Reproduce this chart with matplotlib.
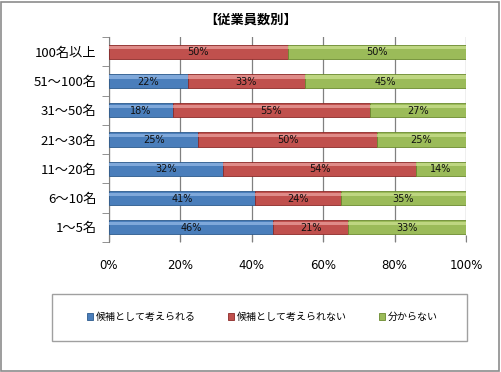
import matplotlib
matplotlib.use("Agg")
import matplotlib.pyplot as plt
from matplotlib.patches import Rectangle
import numpy as np

plt.rcParams['font.family'] = ['Noto Sans CJK JP', 'DejaVu Sans']

categories = ["100名以上", "51～100名", "31～50名", "21～30名", "11～20名", "6～10名", "1～5名"]
series_names = ["候補として考えられる", "候補として考えられない", "分からない"]
yes_vals = [0, 22, 18, 25, 32, 41, 46]
no_vals = [50, 33, 55, 50, 54, 24, 21]
unk_vals = [50, 45, 27, 25, 14, 35, 33]
xticks = [0, 20, 40, 60, 80, 100]
title = "【従業員数別】"

colors = ["#4A7EBB", "#C0504D", "#9BBB59"]
hl_colors = ["#8DB3E2", "#E89A98", "#C8DE8C"]
edge_colors = ["#2C5A8C", "#8C2A28", "#6B8A2E"]

W, H = 501, 372
fig = plt.figure(figsize=(W/100, H/100), dpi=100)
fig.patch.set_facecolor("white")
fig.add_artist(Rectangle((1/W, 1/H), (W-3)/W, (H-3)/H, transform=fig.transFigure,
                         fill=False, edgecolor="#8C8C8C", linewidth=1.2))

ax_left, ax_right = 109/W, 466/W
ax_top, ax_bot = 1-37/H, 1-242/H
ax = fig.add_axes([ax_left, ax_bot, ax_right-ax_left, ax_top-ax_bot])

n = len(categories)
y = np.arange(n)
data = [yes_vals, no_vals, unk_vals]
left = np.zeros(n)
bh = 0.48
handles = []
for i, vals in enumerate(data):
    vals = np.array(vals, dtype=float)
    b = ax.barh(y, vals, left=left, height=bh, color=colors[i], edgecolor=edge_colors[i],
                linewidth=0.6, zorder=3, label=series_names[i])
    handles.append(b)
    ax.barh(y - bh*0.28, vals, left=left, height=bh*0.22, color=hl_colors[i],
            linewidth=0, zorder=4, alpha=0.8)
    for j in range(n):
        if vals[j] > 0:
            ax.text(left[j] + vals[j]/2, y[j] + 0.02, f"{int(vals[j])}%", ha="center", va="center",
                    fontsize=7, color="#111111", zorder=5, family=['DejaVu Sans'])
    left += vals

ax.set_xlim(0, 100)
ax.set_ylim(n-0.5, -0.5)
ax.set_xticks(xticks)
ax.set_xticklabels([f"{t}%" for t in xticks], fontsize=8.5, family=['DejaVu Sans'])
ax.set_yticks(y)
ax.set_yticklabels(categories, fontsize=9.5)
ax.tick_params(axis='y', length=0, pad=9)
ax.set_yticks(np.arange(n+1) - 0.5, minor=True)
ax.tick_params(axis='y', which='minor', length=5, color="#808080", direction='out')
ax.tick_params(axis='x', length=5, color="#808080", direction='in', pad=12)
ax.grid(axis='x', color="#808080", linewidth=0.9, zorder=0)
for s in ["top", "right", "bottom"]:
    ax.spines[s].set_visible(False)
ax.spines["left"].set_color("#808080")
ax.set_facecolor("white")

fig.text(0.5, 1-20/H, title, ha="center", va="center", fontsize=9.5, fontweight="bold")

# legend frame
fig.add_artist(Rectangle((52/W, 1-341/H), (467-52)/W, (341-294)/H, transform=fig.transFigure,
                         fill=False, edgecolor="#A0A0A0", linewidth=1.0))
leg = fig.legend(handles=handles, labels=series_names, loc="center",
                 bbox_to_anchor=(262/W, 1-317/H), ncol=3,
                 fontsize=7.2, frameon=False,
                 handlelength=0.6, handleheight=0.6, columnspacing=3.2, handletextpad=0.3)

fig.savefig("out.png", dpi=100, facecolor="white")
